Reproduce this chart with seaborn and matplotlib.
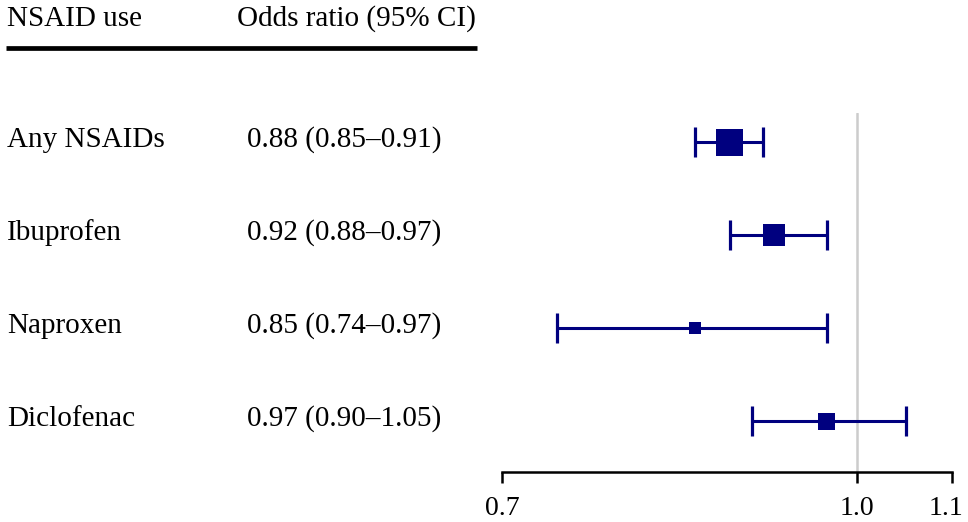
import matplotlib
matplotlib.use("Agg")
import matplotlib.pyplot as plt
from matplotlib.lines import Line2D
import matplotlib.transforms as mtransforms
import seaborn as sns
import pandas as pd
import numpy as np

# ---- data ----
drugs = ["Any NSAIDs", "Ibuprofen", "Naproxen", "Diclofenac"]
odds_ratio = [0.88, 0.92, 0.85, 0.97]
ci_low = [0.85, 0.88, 0.74, 0.90]
ci_high = [0.91, 0.97, 0.97, 1.05]
tick_values = [0.7, 1.0, 1.1]
tick_labels = ["0.7", "1.0", "1.1"]
header_left = "NSAID use"
header_right = "Odds ratio (95% CI)"

# ---- style ----
marker_px = {"Any NSAIDs": 27, "Ibuprofen": 22, "Naproxen": 12, "Diclofenac": 17}
navy = "#00007f"

sns.set_style("white")
plt.rcParams["font.family"] = ["Liberation Serif", "DejaVu Serif"]
plt.rcParams["text.color"] = "black"

W, H = 968, 522
fig = plt.figure(figsize=(W / 100, H / 100), dpi=100)

ax_left, ax_right = 502, 952
ax_top, ax_bottom = 113, 472
ax = fig.add_axes([ax_left / W, (H - ax_bottom) / H,
                   (ax_right - ax_left) / W, (ax_bottom - ax_top) / H])

df = pd.DataFrame({"drug": drugs, "or": odds_ratio, "lo": ci_low, "hi": ci_high})
df["pos"] = np.arange(len(df))

ax.set_xscale("log")
ax.axvline(1.0, color="#cccccc", lw=1.8, zorder=0)

ax.errorbar(df["or"], df["pos"],
            xerr=[df["or"] - df["lo"], df["hi"] - df["or"]],
            fmt="none", ecolor=navy, elinewidth=2.2, capsize=10.8, capthick=2.3, zorder=2)

px2pt = 0.72
sizes = {k: (v * px2pt) ** 2 for k, v in marker_px.items()}
sns.scatterplot(data=df, x="or", y="pos", size="drug", sizes=sizes, marker="s",
                color=navy, edgecolor=navy, linewidth=0, legend=False, ax=ax, zorder=3)

# y mapping: row 0 at 142px, row 3 at 421px
row0_px, row3_px = 142, 421
unit = (row3_px - row0_px) / 3
ax.set_ylim(3 + (ax_bottom - row3_px) / unit, -(row0_px - ax_top) / unit)
ax.set_xlim(0.7, 1.1)

ax.set_xticks(tick_values)
ax.set_xticklabels(tick_labels)
ax.xaxis.set_minor_locator(matplotlib.ticker.NullLocator())
ax.tick_params(axis="x", which="major", direction="out", length=8, width=1.8,
               labelsize=20, pad=9, color="black", labelcolor="black", bottom=True)
ax.set_yticks([])
ax.set_xlabel("")
ax.set_ylabel("")
for s in ["top", "right", "left"]:
    ax.spines[s].set_visible(False)
ax.spines["bottom"].set_linewidth(1.8)
ax.spines["bottom"].set_color("black")

# shift last tick label slightly left so it stays inside the figure
last = ax.get_xticklabels()[-1]
last.set_transform(last.get_transform() +
                   mtransforms.ScaledTranslation(-6 / 100, 0, fig.dpi_scale_trans))

# left text columns
trans = mtransforms.blended_transform_factory(fig.transFigure, ax.transData)
base_off = 5 / unit
for i, row in df.iterrows():
    ax.text(7 / W, row["pos"] + base_off, row["drug"], transform=trans,
            fontsize=21, va="baseline", ha="left", color="black")
    ax.text(247 / W, row["pos"] + base_off,
            f"{row['or']:.2f} ({row['lo']:.2f}\u2013{row['hi']:.2f})",
            transform=trans, fontsize=21, va="baseline", ha="left", color="black")

# header
fig.text(7 / W, 1 - 26 / H, header_left, fontsize=21, va="baseline", ha="left", color="black")
fig.text(237 / W, 1 - 26 / H, header_right, fontsize=21, va="baseline", ha="left", color="black")
fig.add_artist(Line2D([6 / W, 477 / W], [1 - 48 / H, 1 - 48 / H],
                      transform=fig.transFigure, color="black", lw=3.4,
                      solid_capstyle="butt"))

fig.savefig("out.png", dpi=100)
